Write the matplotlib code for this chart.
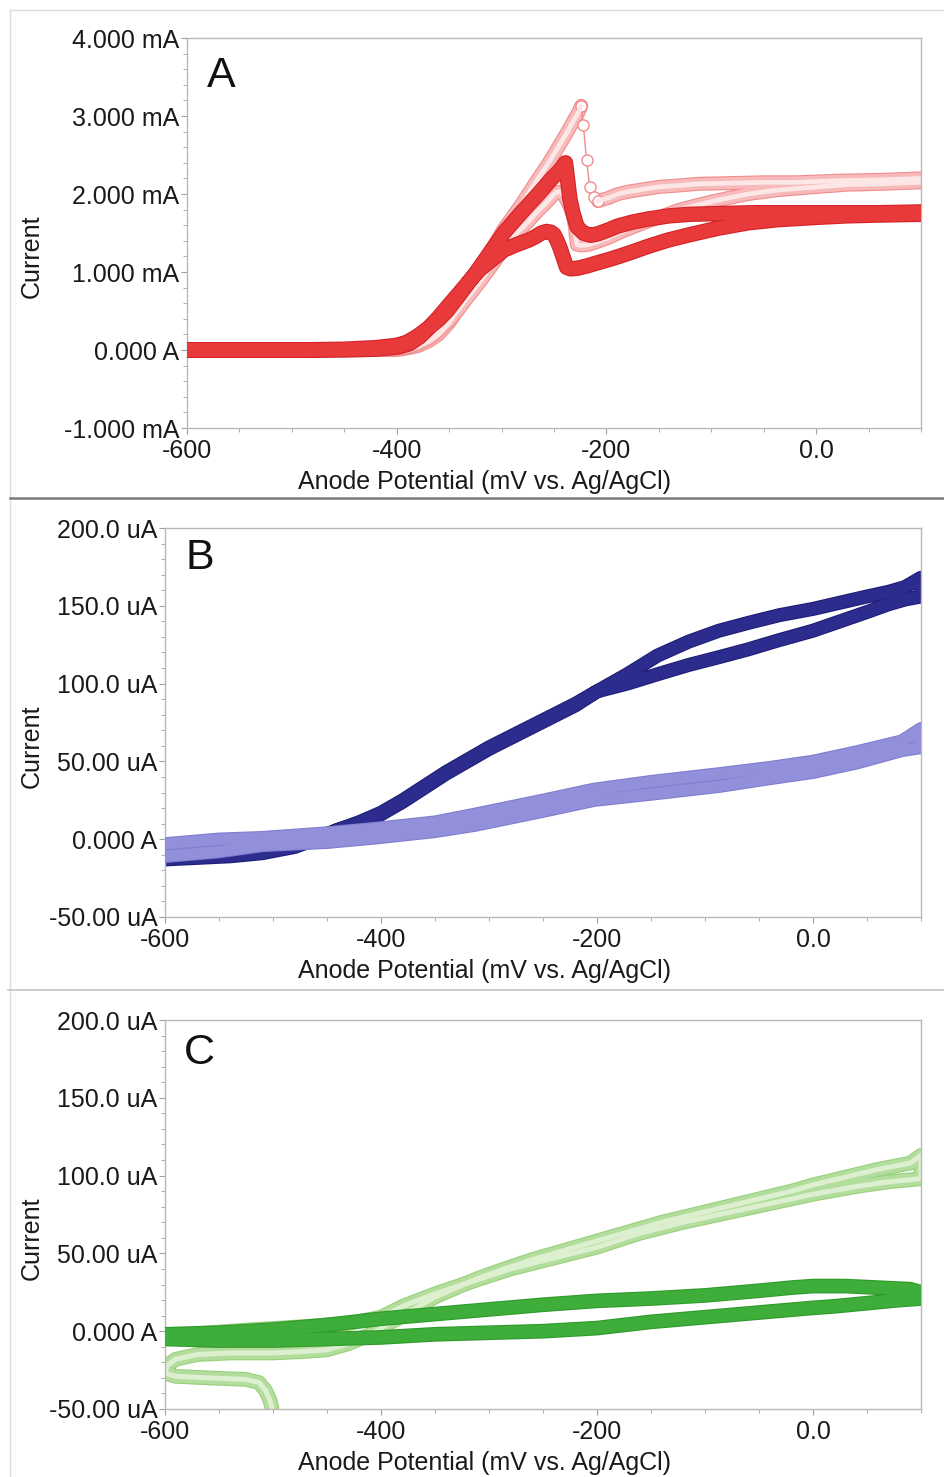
import matplotlib
matplotlib.use("Agg")
import matplotlib.pyplot as plt
import matplotlib.patheffects as pe
from matplotlib.lines import Line2D
from matplotlib.ticker import MultipleLocator

plt.rcParams['font.family'] = ['Liberation Sans', 'DejaVu Sans']

# ---- panel A (mV, mA) ----
a_red_x = [-600, -500, -450, -420, -400, -390, -380, -370, -360, -352, -340, -324, -311,
           -298, -282, -265, -252, -244, -239,
           -237, -235, -232, -228, -222, -215, -208, -198, -189, -175, -160, -140, -120, -90,
           -60, -20, 20, 60, 100,
           100, 60, 30, 0, -37, -65, -94, -120, -141, -160, -179, -195, -208, -218, -227,
           -234, -238, -241, -244, -247, -250, -253, -257, -262, -268, -274, -286, -298,
           -310, -321, -331, -341, -350, -360, -369, -378, -388, -398, -420, -450,
           -500, -600]
a_red_y = [0.0, 0.0, 0.01, 0.03, 0.06, 0.10, 0.18, 0.28, 0.39, 0.50, 0.71, 1.00, 1.25,
           1.50, 1.75, 2.00, 2.20, 2.31, 2.40,
           2.18, 1.95, 1.76, 1.58, 1.50, 1.47, 1.49, 1.54, 1.59, 1.64, 1.68, 1.72, 1.74, 1.75,
           1.76, 1.76, 1.76, 1.76, 1.77,
           1.74, 1.73, 1.72, 1.70, 1.67, 1.63, 1.56, 1.48, 1.41, 1.33, 1.24, 1.17, 1.12, 1.08, 1.05,
           1.04, 1.06, 1.18, 1.30, 1.40, 1.48, 1.51, 1.52, 1.50, 1.45, 1.41, 1.35, 1.28,
           1.15, 1.03, 0.88, 0.72, 0.58, 0.42, 0.29, 0.17, 0.08, 0.04, 0.01, 0.0,
           0.0, 0.0]

a_pink_up_x = [-600, -500, -430, -400, -390, -380, -370, -360, -350, -340, -324, -311,
               -298, -282, -265, -255, -246, -238, -231, -227, -224]
a_pink_up_y = [0.0, 0.0, 0.0, 0.0, 0.02, 0.05, 0.11, 0.20, 0.35, 0.55, 0.95, 1.25,
               1.55, 1.85, 2.20, 2.40, 2.60, 2.78, 2.95, 3.04, 3.13]

a_pink_drop_x = [-224, -222, -219, -216, -212, -208]
a_pink_drop_y = [3.13, 2.88, 2.44, 2.09, 1.96, 1.91]

a_pink_rest_x = [-208, -198, -189, -179, -165, -151, -130, -113, -80, -50, -18, 20, 60, 100,
                 100, 60, 30, 0, -37, -65, -94, -113, -132, -150, -170, -185, -198, -208, -217,
                 -224, -228, -229, -230, -232, -235, -238, -241, -244, -248, -252, -258, -265,
                 -275, -284, -294, -303, -312, -322, -332, -341, -350, -360, -369, -379, -388,
                 -398, -420, -450, -500, -600]
a_pink_rest_y = [1.91, 1.95, 2.00, 2.03, 2.06, 2.09, 2.11, 2.13, 2.14, 2.15, 2.15, 2.17, 2.18, 2.20,
                 2.15, 2.13, 2.12, 2.09, 2.05, 2.00, 1.92, 1.86, 1.79, 1.70, 1.60, 1.52, 1.44, 1.39, 1.35,
                 1.34, 1.35, 1.45, 1.58, 1.73, 1.84, 1.92, 1.99, 2.03, 2.02, 1.97, 1.88, 1.79,
                 1.64, 1.52, 1.36, 1.20, 1.03, 0.85, 0.68, 0.52, 0.38, 0.25, 0.15, 0.08, 0.04,
                 0.02, 0.0, 0.0, 0.0, 0.0]

# ---- panel B (mV, uA) ----
b_dark_x = [-600, -570, -540, -510, -480, -460, -440, -420, -400, -380, -360, -340, -320, -300,
            -280, -260, -240, -220, -200, -172, -144, -115, -87, -60, -31, 0, 25, 50, 70, 85, 100,
            100, 85, 70, 50, 25, 0, -31, -60, -87, -115, -144, -172, -200, -220, -240, -260,
            -280, -300, -320, -340, -360, -380, -400, -420, -440, -455, -480, -510, -560, -600]
b_dark_y = [-13, -12, -11, -9, -5, 0, 6, 10, 16, 24, 33, 42, 50, 58,
            65, 72, 79, 86, 95, 106, 118, 127, 134, 139, 144, 148, 152, 156, 159, 162, 168,
            156, 154, 151, 146, 140, 134, 128, 122, 117, 112, 106, 100, 95, 87, 80, 73,
            66, 59, 51, 43, 34, 25, 17, 11, 6, 2, -2, -4, -6, -8]

b_light_x = [-600, -550, -510, -450, -403, -350, -313, -250, -203, -150, -87, -40, 0, 40, 82, 100,
             100, 82, 40, 0, -40, -87, -150, -203, -250, -313, -350, -403, -450, -510, -550, -600]
b_light_y = [-3, 0, 1, 4, 7, 11, 16, 25, 32, 37, 42, 46, 50, 56, 63, 71,
             59, 57, 49, 43, 39, 34, 29, 25, 18, 9, 5, 1, -2, -4, -8, -11]

# ---- panel C (mV, uA) ----
c_dark_x = [-600, -550, -500, -450, -400, -350, -300, -250, -200, -150, -100, -50, -20, 0, 30, 60, 90, 100,
            100, 80, 50, 20, 0, -50, -100, -150, -200, -250, -300, -350, -400, -450, -500, -550, -600]
c_dark_y = [-2, -1, 1, 4, 8, 11, 14, 17, 19.5, 21, 23, 26, 28, 29, 29, 28, 27, 25,
            21, 20, 18, 16, 15, 12, 9, 6, 2, 0, -1, -2, -4, -5, -6, -6, -5]

c_light_x = [-501, -503, -507, -513, -525, -560, -590, -600, -598, -590, -570, -540, -500, -470,
             -450, -430, -410, -390, -370, -350, -330, -310, -290, -260, -230, -200, -170, -140,
             -110, -80, -50, -20, 0, 30, 60, 90, 100,
             100, 70, 40, 0, -40, -80, -120, -160, -200, -240, -280, -320, -350, -380, -400,
             -430, -470, -520, -560, -600]
c_light_y = [-49, -44, -38, -33, -31, -30, -29, -27, -22, -18, -15, -14, -14, -13,
             -12, -8, -2, 6, 14, 22, 28, 34, 39, 46, 52, 58, 64, 70,
             75, 80, 85, 90, 94, 99, 104, 108, 113,
             98, 96, 93, 88, 82, 76, 70, 63, 54, 47, 40, 31, 24, 16, 9,
             5, 3, 1, -1, -3]

x_ticks = [-600, -400, -200, 0]
x_tick_labels = ['-600', '-400', '-200', '0.0']
a_y_ticks = [-1, 0, 1, 2, 3, 4]
a_y_labels = ['-1.000 mA', '0.000 A', '1.000 mA', '2.000 mA', '3.000 mA', '4.000 mA']
bc_y_ticks = [-50, 0, 50, 100, 150, 200]
bc_y_labels = ['-50.00 uA', '0.000 A', '50.00 uA', '100.0 uA', '150.0 uA', '200.0 uA']


def band(ax, x, y, color, edge, lw=8, inner=None, z=2):
    # thick line stands in for the dense run of overlapping markers
    line, = ax.plot(x, y, color=color, lw=lw, solid_capstyle='round',
                    solid_joinstyle='round', zorder=z)
    line.set_path_effects([pe.Stroke(linewidth=lw + 1.6, foreground=edge), pe.Normal()])
    if inner is not None:
        ax.plot(x, y, color=inner, lw=lw * 0.4, solid_capstyle='round',
                solid_joinstyle='round', zorder=z + 0.1)


def style(ax, ylim, yticks, ylabels, yminor, letter, lab_x, ylab_x, letter_y):
    ax.set_xlim(-600, 100)
    ax.set_ylim(*ylim)
    ax.set_xticks(x_ticks)
    ax.set_xticklabels(x_tick_labels)
    ax.xaxis.set_minor_locator(MultipleLocator(50))
    ax.set_yticks(yticks)
    ax.set_yticklabels(ylabels)
    ax.yaxis.set_minor_locator(MultipleLocator(yminor))
    for s in ax.spines.values():
        s.set_color('#b8b8b8')
        s.set_linewidth(1.0)
    ax.tick_params(which='both', direction='out', colors='#a0a0a0',
                   labelcolor='#1a1a1a', labelsize=18)
    ax.tick_params(which='major', length=4)
    ax.tick_params(which='minor', length=3)
    ax.tick_params(axis='y', pad=1.5)
    ax.tick_params(axis='x', pad=4)
    ax.text(lab_x, -0.138, 'Anode Potential (mV vs. Ag/AgCl)', transform=ax.transAxes,
            ha='center', va='center', fontsize=18, color='#1a1a1a')
    ax.text(ylab_x, 0.44, 'Current', transform=ax.transAxes, rotation=90,
            ha='center', va='center', fontsize=18, color='#1a1a1a')
    ax.text(0.046, letter_y, letter, transform=ax.transAxes, ha='center', va='center',
            fontsize=31, color='#111111')


fig = plt.figure(figsize=(9.45, 14.77), dpi=100)
W, H = 945.0, 1477.0

def add_ax(l, t, r, b):
    return fig.add_axes([l / W, 1 - b / H, (r - l) / W, (b - t) / H])

ax_a = add_ax(187, 38, 921, 428)
ax_b = add_ax(165, 528, 921, 917)
ax_c = add_ax(165, 1020, 921, 1409)

# panel A
band(ax_a, a_pink_up_x, a_pink_up_y, '#f7b9b9', '#f08c8c', lw=8.5, inner='#fde6e6', z=2)
band(ax_a, a_pink_rest_x, a_pink_rest_y, '#f7b9b9', '#f08c8c', lw=8.5, inner='#fde6e6', z=2)
ax_a.plot(a_pink_drop_x, a_pink_drop_y, color='#f08c8c', lw=1, marker='o', ms=8,
          mfc='white', mec='#f08c8c', mew=1, zorder=2)
band(ax_a, a_red_x, a_red_y, '#e8393b', '#d42226', lw=9.5, z=3)
style(ax_a, (-1, 4), a_y_ticks, a_y_labels, 0.2, 'A', 0.405, -0.211, 0.903)

# panel B
band(ax_b, b_dark_x, b_dark_y, '#2c2c8e', '#1e1e78', lw=8.5, z=2)
band(ax_b, b_light_x, b_light_y, '#9290da', '#807ecf', lw=8, z=3)
style(ax_b, (-50, 200), bc_y_ticks, bc_y_labels, 10, 'B', 0.422, -0.176, 0.923)

# panel C
band(ax_c, c_light_x, c_light_y, '#b3dd9c', '#98d07c', lw=9, inner='#dcf0cf', z=2)
band(ax_c, c_dark_x, c_dark_y, '#3fad3a', '#2f9a2c', lw=9, z=3)
style(ax_c, (-50, 200), bc_y_ticks, bc_y_labels, 10, 'C', 0.422, -0.176, 0.915)

# panel frames
fig.add_artist(Line2D([10 / W, 1], [1 - 10 / H, 1 - 10 / H], color='#dcdcdc', lw=1))
fig.add_artist(Line2D([10 / W, 10 / W], [0, 1 - 10 / H], color='#dcdcdc', lw=1))
fig.add_artist(Line2D([10 / W, 1], [1 - 498 / H, 1 - 498 / H], color='#7a7a7a', lw=1.8))
fig.add_artist(Line2D([8 / W, 1], [1 - 990 / H, 1 - 990 / H], color='#c4c4c4', lw=1.2))

fig.savefig('out.png', dpi=100)
